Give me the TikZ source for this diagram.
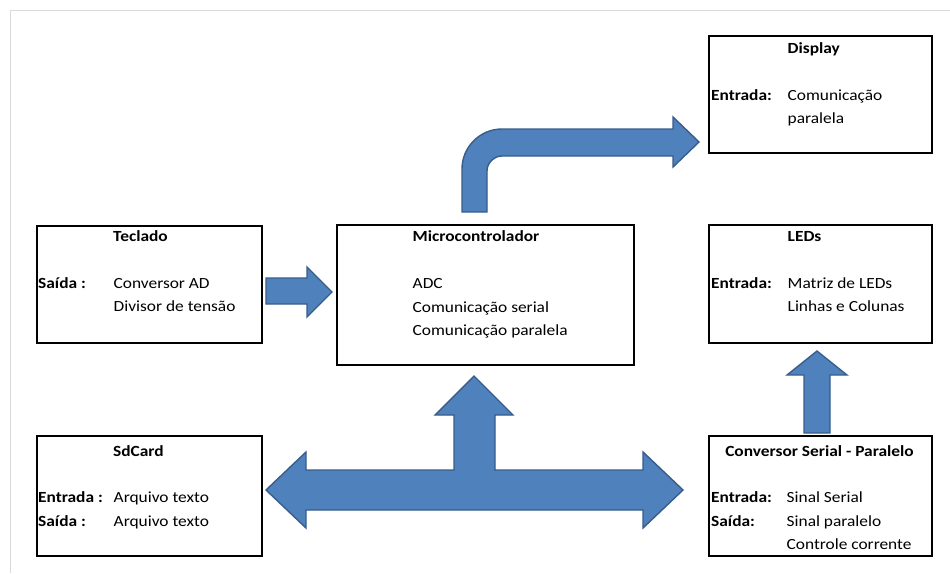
\documentclass[tikz,border=0pt]{standalone}
\usepackage{fontspec}
\setmainfont{Carlito}[FakeStretch=1.12]
\begin{document}
\begin{tikzpicture}[x=1pt,y=-1pt,
  box/.style={draw=black,line width=1.8pt,fill=white},
  txt/.style={anchor=base west,inner sep=0pt,font=\fontsize{15.5}{23}\selectfont},
  ttl/.style={txt,font=\fontsize{15.5}{23}\selectfont\bfseries},
  blockarrow/.style={fill=arrowblue,draw=arrowedge,line width=1.4pt,line join=miter}]
\definecolor{arrowblue}{RGB}{79,129,189}
\definecolor{arrowedge}{RGB}{56,93,138}
\definecolor{framegray}{RGB}{218,218,218}
\useasboundingbox (0,0) rectangle (950,573);
\fill[white] (0,0) rectangle (950,573);

% page frame
\draw[framegray,line width=1pt] (10,573) -- (10,10.5) -- (950,10.5);

% blocks
\node[box,anchor=north west,minimum width=223pt,minimum height=117pt] (display) at (708,35) {};
\node[box,anchor=north west,minimum width=223pt,minimum height=118pt] (leds) at (708,224) {};
\node[box,anchor=north west,minimum width=223pt,minimum height=120pt] (conv) at (708,435) {};
\node[box,anchor=north west,minimum width=225pt,minimum height=117pt] (teclado) at (36,225) {};
\node[box,anchor=north west,minimum width=225pt,minimum height=120pt] (sdcard) at (36,435) {};
\node[box,anchor=north west,minimum width=297pt,minimum height=140pt] (micro) at (336,224) {};

% Teclado
\node[ttl] (tecT) at (113,241.5) {Teclado};
\node[ttl] (tecA) at (38,288) {Saída :};
\node[txt] (tecB) at (113.5,288) {Conversor AD};
\node[txt] (tecC) at (113.5,311.5) {Divisor de tensão};

% Microcontrolador
\node[ttl] (micT) at (412.5,241.5) {Microcontrolador};
\node[txt] (micA) at (412.5,288.5) {ADC};
\node[txt] (micB) at (412.5,312) {Comunicação serial};
\node[txt] (micC) at (412.5,335.5) {Comunicação paralela};

% Display
\node[ttl] (disT) at (787.5,53) {Display};
\node[ttl] (disA) at (711,100) {Entrada:};
\node[txt] (disB) at (787.5,100) {Comunicação};
\node[txt] (disC) at (787.5,123) {paralela};

% LEDs
\node[ttl] (ledT) at (787.5,241.5) {LEDs};
\node[ttl] (ledA) at (711,288) {Entrada:};
\node[txt] (ledB) at (787.5,288) {Matriz de LEDs};
\node[txt] (ledC) at (787.5,311.5) {Linhas e Colunas};

% SdCard
\node[ttl] (sdT) at (113,456) {SdCard};
\node[ttl] (sdA) at (38,502.5) {Entrada :};
\node[txt] (sdB) at (113.5,502.5) {Arquivo texto};
\node[ttl] (sdC) at (38,526) {Saída :};
\node[txt] (sdD) at (113.5,526) {Arquivo texto};

% Conversor Serial - Paralelo
\node[ttl,anchor=base] (cnvT) at (819.5,456) {Conversor Serial - Paralelo};
\node[ttl] (cnvA) at (711,502.5) {Entrada:};
\node[txt] (cnvB) at (786.5,502.5) {Sinal Serial};
\node[ttl] (cnvC) at (711,526) {Saída:};
\node[txt] (cnvD) at (786.5,526) {Sinal paralelo};
\node[txt] (cnvE) at (786.5,549.5) {Controle corrente};

% Teclado -> Microcontrolador
\draw[blockarrow] (266,278) -- (307,278) -- (307,267) -- (332,292) -- (307,317)
  -- (307,304) -- (266,304) -- cycle;

% Microcontrolador -> Display (bent arrow)
\draw[blockarrow] (462,212) -- (462,169)
  .. controls (462,147) and (480,129) .. (502,129)
  -- (673,129) -- (673,117) -- (699,142) -- (673,167) -- (673,156) -- (502,156)
  .. controls (494,156) and (487,163) .. (487,171)
  -- (487,212) -- cycle;

% SdCard <-> Microcontrolador <-> Conversor (T arrow)
\draw[blockarrow] (266,490) -- (306,452) -- (306,470) -- (454,470) -- (454,415)
  -- (435,415) -- (474,376) -- (513,415) -- (495,415) -- (495,470) -- (643,470)
  -- (643,452) -- (683,490) -- (643,528) -- (643,510) -- (306,510) -- (306,528) -- cycle;

% Conversor -> LEDs
\draw[blockarrow] (804,433) -- (804,375) -- (787,375) -- (817,351) -- (847,375)
  -- (830,375) -- (830,433) -- cycle;
\end{tikzpicture}
\end{document}
